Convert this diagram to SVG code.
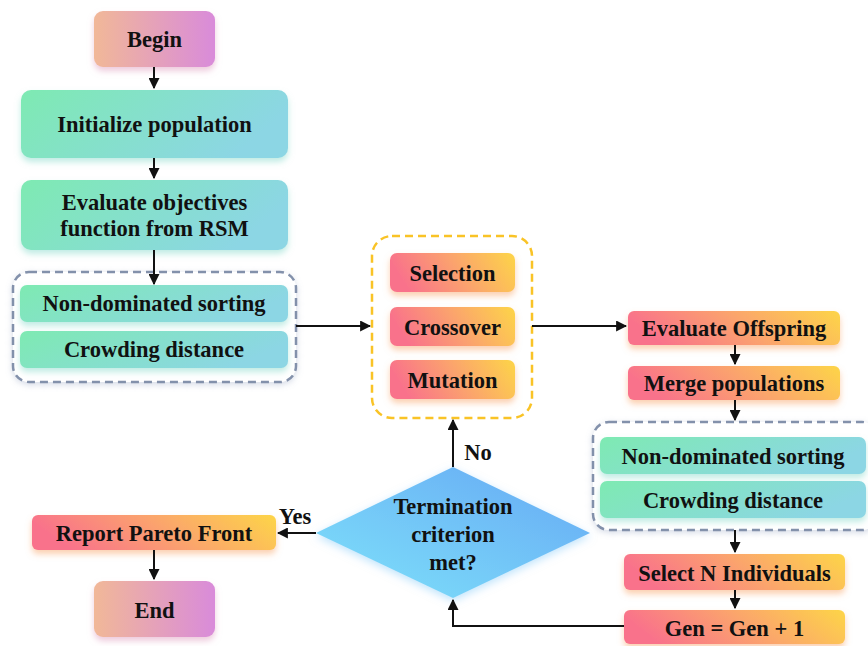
<svg xmlns="http://www.w3.org/2000/svg" width="868" height="646" viewBox="0 0 868 646" font-family="'Liberation Serif','Times New Roman',serif">
<defs>
<linearGradient id="gPink" x1="0" y1="0" x2="1" y2="0"><stop offset="0" stop-color="#F1B898"/><stop offset="1" stop-color="#D98BDA"/></linearGradient>
<linearGradient id="gGreen" x1="0" y1="0" x2="1" y2="0.3"><stop offset="0" stop-color="#7EEAB2"/><stop offset="1" stop-color="#8CD6E4"/></linearGradient>
<linearGradient id="gOrange" x1="0" y1="0.2" x2="1" y2="0"><stop offset="0" stop-color="#F9728B"/><stop offset="0.5" stop-color="#FBA56C"/><stop offset="1" stop-color="#FDD548"/></linearGradient>
<linearGradient id="gBlue" x1="0" y1="1" x2="1" y2="0"><stop offset="0" stop-color="#7EE2FA"/><stop offset="1" stop-color="#66A8F4"/></linearGradient>
<filter id="shP" x="-20%" y="-30%" width="140%" height="170%"><feDropShadow dx="0" dy="4" stdDeviation="3" flood-color="#E0A0C0" flood-opacity="0.55"/></filter>
<filter id="shG" x="-20%" y="-30%" width="140%" height="170%"><feDropShadow dx="0" dy="4" stdDeviation="3" flood-color="#80D8C8" flood-opacity="0.5"/></filter>
<filter id="shO" x="-20%" y="-30%" width="140%" height="170%"><feDropShadow dx="0" dy="4" stdDeviation="3" flood-color="#F8A060" flood-opacity="0.5"/></filter>
<filter id="shB" x="-20%" y="-20%" width="140%" height="140%"><feDropShadow dx="0" dy="3" stdDeviation="4" flood-color="#80C8F8" flood-opacity="0.5"/></filter>
<filter id="glow" x="-10%" y="-10%" width="120%" height="120%"><feDropShadow dx="0" dy="2" stdDeviation="3" flood-color="#8899BB" flood-opacity="0.35"/></filter>
<marker id="ah" viewBox="0 0 10 10" refX="9" refY="5" markerWidth="5.5" markerHeight="5.5" orient="auto-start-reverse"><path d="M0,0 L10,5 L0,10 z" fill="#111"/></marker>
</defs>
<style>
text{font-family:"Liberation Serif","Times New Roman",serif;font-weight:bold;font-size:22.5px;fill:#111;text-anchor:middle}
.pink{fill:url(#gPink);filter:url(#shP)}
.green{fill:url(#gGreen);filter:url(#shG)}
.orange{fill:url(#gOrange);filter:url(#shO)}
.blue{fill:url(#gBlue);filter:url(#shB)}
.dg{fill:#fff;stroke:#8391AB;stroke-width:2.5;stroke-dasharray:8 5;filter:url(#glow)}
.do{fill:#fff;stroke:#F9C326;stroke-width:2.5;stroke-dasharray:8 5}
.c{fill:none;stroke:#111;stroke-width:2;marker-end:url(#ah)}
</style>
<g id="groupLeft"><rect class="dg" x="13" y="272" width="283" height="110" rx="16"/></g>
<g id="groupGA"><rect class="do" x="372" y="236" width="160" height="182" rx="20"/></g>
<g id="groupRight"><rect class="dg" x="593" y="422" width="285" height="108" rx="16"/></g>

<g id="begin"><rect class="pink" x="94" y="11" width="121" height="56" rx="9"/><text x="154.5" y="47">Begin</text></g>
<g id="init"><rect class="green" x="21" y="90" width="267" height="68" rx="10"/><text x="154.5" y="132">Initialize population</text></g>
<g id="evaluate"><rect class="green" x="21" y="180" width="267" height="70" rx="10"/><text x="154.5" y="210">Evaluate objectives</text><text x="154.5" y="236">function from RSM</text></g>
<g id="nds1"><rect class="green" x="20" y="285" width="268" height="37" rx="7"/><text x="154" y="311">Non-dominated sorting</text></g>
<g id="cd1"><rect class="green" x="20" y="331" width="268" height="37" rx="7"/><text x="154" y="357">Crowding distance</text></g>
<g id="selection"><rect class="orange" x="390" y="253" width="125" height="39" rx="7"/><text x="452.5" y="281">Selection</text></g>
<g id="crossover"><rect class="orange" x="390" y="307" width="125" height="39" rx="7"/><text x="452.5" y="335">Crossover</text></g>
<g id="mutation"><rect class="orange" x="390" y="360" width="125" height="39" rx="7"/><text x="452.5" y="388">Mutation</text></g>
<g id="evalOff"><rect class="orange" x="628" y="311" width="212" height="34" rx="6"/><text x="734" y="336">Evaluate Offspring</text></g>
<g id="merge"><rect class="orange" x="628" y="366" width="212" height="34" rx="6"/><text x="734" y="391">Merge populations</text></g>
<g id="nds2"><rect class="green" x="600" y="437" width="266" height="37" rx="7"/><text x="733" y="464">Non-dominated sorting</text></g>
<g id="cd2"><rect class="green" x="600" y="481" width="266" height="37" rx="7"/><text x="733" y="508">Crowding distance</text></g>
<g id="selectN"><rect class="orange" x="624" y="554" width="221" height="36" rx="6"/><text x="734.5" y="581">Select N Individuals</text></g>
<g id="gen"><rect class="orange" x="624" y="610" width="221" height="34" rx="6"/><text x="734.5" y="636">Gen = Gen + 1</text></g>
<g id="decision"><path class="blue" d="M453,467 L590,533 L453,598 L316,533 Z"/><text x="453" y="514">Termination</text><text x="453" y="542">criterion</text><text x="453" y="570">met?</text></g>
<g id="report"><rect class="orange" x="32" y="515" width="244" height="35" rx="6"/><text x="154" y="541">Report Pareto Front</text></g>
<g id="end"><rect class="pink" x="94" y="581" width="121" height="56" rx="9"/><text x="154.5" y="618">End</text></g>

<g id="connectors">
<path class="c" d="M154,67 L154,88"/>
<path class="c" d="M154,158 L154,178"/>
<path class="c" d="M154,250 L154,284"/>
<path class="c" d="M296,326 L370,326"/>
<path class="c" d="M532,326 L626,326"/>
<path class="c" d="M735,345 L735,364"/>
<path class="c" d="M735,400 L735,420"/>
<path class="c" d="M735,530 L735,552"/>
<path class="c" d="M735,590 L735,608"/>
<path class="c" d="M624,626 L453,626 L453,600"/>
<path class="c" d="M453,467 L453,420"/>
<path class="c" d="M316,533 L278,533"/>
<path class="c" d="M154,550 L154,579"/>
<text x="478" y="460">No</text>
<text x="295" y="524">Yes</text>
</g>
</svg>
